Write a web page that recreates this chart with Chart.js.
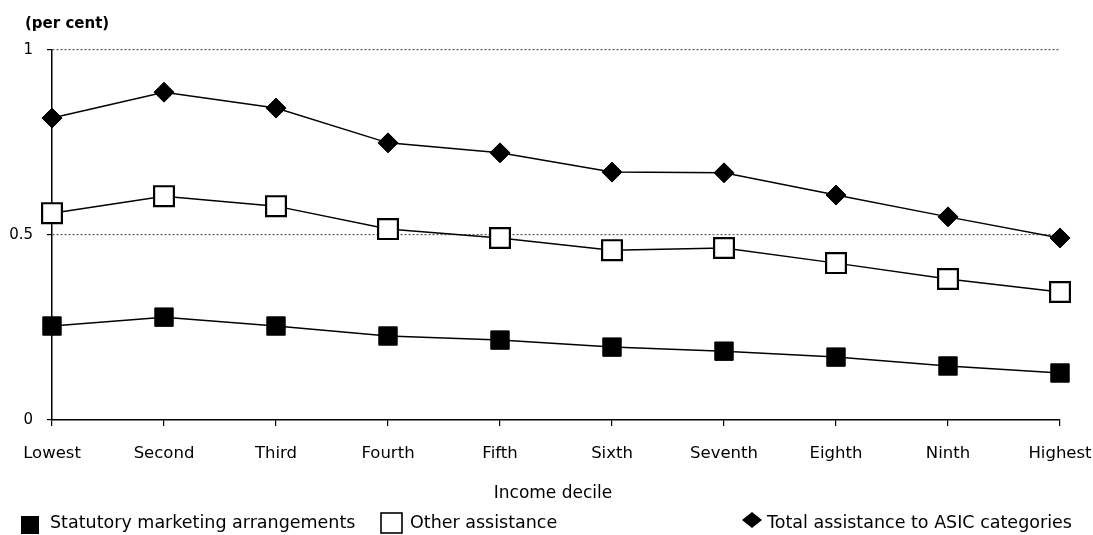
<!DOCTYPE html>
<html><head><meta charset="utf-8">
<script src="https://cdn.jsdelivr.net/npm/chart.js@4/dist/chart.umd.min.js"></script>
<style>html,body{margin:0;padding:0;background:#fff;} #wrap{width:1093px;height:535px;position:relative;}</style>
</head><body><div id="wrap"><canvas id="c" width="1093" height="535"></canvas></div>
<script>
const categories = ['Lowest','Second','Third','Fourth','Fifth','Sixth','Seventh','Eighth','Ninth','Highest'];
const statutory = [0.254,0.278,0.254,0.227,0.216,0.197,0.186,0.170,0.146,0.127];
const other = [0.559,0.605,0.578,0.516,0.492,0.459,0.465,0.424,0.381,0.346];
const total = [0.816,0.886,0.843,0.749,0.722,0.670,0.668,0.608,0.549,0.492];
const yTicks = [0, 0.5, 1];
const seriesNames = ['Statutory marketing arrangements','Other assistance','Total assistance to ASIC categories'];
const yUnit = '(per cent)';
const xTitle = 'Income decile';

const FONT = '"DejaVu Sans", sans-serif';

const extras = {
  id: 'extras',
  afterDraw(chart) {
    const ctx = chart.ctx;
    ctx.save();
    ctx.fillStyle = '#000';
    ctx.textBaseline = 'middle';
    ctx.textAlign = 'left';
    ctx.font = 'bold 15px ' + FONT;
    ctx.fillText(yUnit, 25, 24);
    ctx.font = '17px ' + FONT;
    ctx.textAlign = 'center';
    ctx.fillText(xTitle, 553, 494);
    // legend
    ctx.textAlign = 'left';
    ctx.font = '17.5px ' + FONT;
    const ly = 523;
    // filled square
    ctx.fillRect(21, ly - 7, 18, 18);
    ctx.fillText(seriesNames[0], 50, ly);
    // hollow square
    ctx.lineWidth = 1.6;
    ctx.strokeStyle = '#000';
    ctx.fillStyle = '#fff';
    ctx.fillRect(381, ly - 10, 21, 20);
    ctx.strokeRect(381, ly - 10, 21, 20);
    ctx.fillStyle = '#000';
    ctx.fillText(seriesNames[1], 410, ly);
    // diamond
    const dx = 752, dy = 520;
    ctx.beginPath();
    ctx.moveTo(dx, dy - 8);
    ctx.lineTo(dx + 10, dy);
    ctx.lineTo(dx, dy + 8);
    ctx.lineTo(dx - 10, dy);
    ctx.closePath();
    ctx.fill();
    ctx.fillText(seriesNames[2], 767, ly);
    ctx.restore();
  }
};

new Chart(document.getElementById('c'), {
  type: 'line',
  data: {
    labels: categories,
    datasets: [
      { label: seriesNames[0], data: statutory, borderColor: '#000', borderWidth: 1.5,
        pointStyle: 'rect', pointRadius: 13, pointBackgroundColor: '#000', pointBorderColor: '#000', pointBorderWidth: 1,
        tension: 0, fill: false },
      { label: seriesNames[1], data: other, borderColor: '#000', borderWidth: 1.5,
        pointStyle: 'rect', pointRadius: 14, pointBackgroundColor: '#fff', pointBorderColor: '#000', pointBorderWidth: 2.2,
        tension: 0, fill: false },
      { label: seriesNames[2], data: total, borderColor: '#000', borderWidth: 1.5,
        pointStyle: 'rectRot', pointRadius: 10, pointBackgroundColor: '#000', pointBorderColor: '#000', pointBorderWidth: 1,
        tension: 0, fill: false }
    ]
  },
  options: {
    responsive: false,
    devicePixelRatio: 1,
    animation: false,
    events: [],
    layout: { padding: { top: 50, right: 33, left: 0, bottom: 0 } },
    plugins: { legend: { display: false }, tooltip: { enabled: false }, title: { display: false } },
    scales: {
      x: {
        type: 'category',
        offset: false,
        grid: { drawOnChartArea: false, drawTicks: true, tickLength: 6, color: '#000', lineWidth: 1.2 },
        border: { color: '#000', width: 1.5 },
        ticks: { color: '#000', font: { family: FONT, size: 16.5 }, padding: 18, autoSkip: false, maxRotation: 0 },
        afterFit(scale) { scale.height = 115; scale.paddingLeft = 0; scale.paddingRight = 0; }
      },
      y: {
        min: 0, max: 1,
        afterBuildTicks(scale) { scale.ticks = yTicks.map(v => ({ value: v })); },
        grid: {
          color: (c) => (c.tick && c.tick.value === 0) ? 'rgba(0,0,0,0)' : '#555',
          lineWidth: 1.2, tickLength: 5, tickColor: '#000', tickBorderDash: []
        },
        border: { color: '#000', width: 1.5, dash: [2, 2] },
        ticks: { color: '#000', font: { family: FONT, size: 15 }, padding: 14,
          callback: (v) => String(v) },
        afterFit(scale) { scale.width = 52; }
      }
    }
  },
  plugins: [extras]
});
</script>
</body></html>
